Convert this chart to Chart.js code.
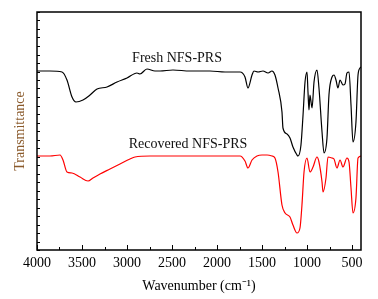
<!DOCTYPE html>
<html>
<head>
<meta charset="utf-8">
<script src="https://cdn.jsdelivr.net/npm/chart.js@4"></script>
<style>
  html, body { margin: 0; padding: 0; background: #fff; }
  canvas { display: block; }
</style>
</head>
<body>
<canvas id="chart" width="378" height="299"></canvas>
<script>
// wavenumber (cm-1) and transmittance (arbitrary units)
const freshWn = [4000, 3856, 3722, 3667, 3611, 3567, 3489, 3411, 3333, 3222, 3111, 3000, 2889, 2856, 2778, 2689, 2633, 2489, 2300, 2078, 1911, 1744, 1689, 1656, 1611, 1589, 1544, 1489, 1433, 1389, 1356, 1322, 1278, 1267, 1222, 1189, 1156, 1111, 1100, 1067, 1044, 1022, 1000, 989, 978, 967, 944, 922, 889, 867, 833, 811, 778, 756, 722, 700, 678, 656, 633, 600, 578, 556, 533, 511, 489, 456, 433, 411, 400]
const freshT = [179, 179, 178, 170, 153, 148, 150, 155, 161, 163, 168, 172, 177, 176, 181, 179, 179, 180, 179, 179, 178, 178, 173, 162, 175, 179, 178, 179, 177, 179, 175, 162, 138, 122, 116, 112, 103, 95, 94, 105, 135, 168, 178, 158, 140, 155, 142, 168, 180, 162, 118, 97, 112, 155, 173, 175, 170, 162, 170, 165, 166, 177, 178, 145, 108, 128, 175, 182, 183]

const recWn = [4000, 3856, 3744, 3711, 3667, 3611, 3522, 3433, 3378, 3300, 3189, 3078, 2967, 2911, 2744, 2522, 2189, 1967, 1744, 1689, 1656, 1611, 1556, 1500, 1444, 1389, 1356, 1322, 1278, 1244, 1189, 1156, 1111, 1078, 1056, 1033, 1000, 967, 933, 889, 867, 833, 822, 789, 767, 722, 700, 667, 633, 600, 556, 533, 511, 489, 456, 433, 400]
const recT = [94, 94, 95, 90, 78, 77, 73, 69, 72, 76, 81, 86, 91, 93, 94, 94, 94, 94, 94, 89, 82, 90, 94, 95, 95, 94, 92, 78, 45, 37, 33, 25, 17, 22, 45, 78, 92, 78, 83, 93, 88, 68, 58, 72, 93, 92, 91, 82, 90, 83, 92, 88, 62, 37, 52, 92, 94]

const xTicks = [4000, 3500, 3000, 2500, 2000, 1500, 1000, 500]
const seriesNames = ["Fresh NFS-PRS", "Recovered NFS-PRS"]
const labelWn = [2444, 2322]
const labelT = [192, 106]

const serif = "'Liberation Serif', 'Times New Roman', serif"

const toPoints = (xs, ys) => xs.map((x, i) => ({x: x, y: ys[i]}))

const framePlugin = {
    id: "frame",
    afterDatasetsDraw(chart){
        const ctx = chart.ctx
        const a = chart.chartArea
        const xs = chart.scales.x
        const ys = chart.scales.y
        ctx.save()
        ctx.strokeStyle = "#000"
        ctx.lineWidth = 1.5
        ctx.strokeRect(a.left, a.top, a.right - a.left, a.bottom - a.top)

        // inward ticks on the bottom axis
        ctx.lineWidth = 1
        ctx.beginPath()
        for(let v = 500; v <= 4000; v += 250){
            const px = Math.round(xs.getPixelForValue(v)) + 0.5
            const len = v % 500 === 0 ? 5 : 3
            ctx.moveTo(px, a.bottom)
            ctx.lineTo(px, a.bottom - len)
        }
        // small ticks on the left axis
        for(let v = 0; v <= 238; v += 8.5){
            const py = Math.round(ys.getPixelForValue(v)) + 0.5
            ctx.moveTo(a.left, py)
            ctx.lineTo(a.left + 3, py)
        }
        ctx.stroke()

        // curve labels
        ctx.fillStyle = "#111"
        ctx.font = "14px " + serif
        ctx.textAlign = "center"
        ctx.textBaseline = "middle"
        seriesNames.forEach((name, i) => {
            ctx.fillText(name, xs.getPixelForValue(labelWn[i]), ys.getPixelForValue(labelT[i]))
        })
        ctx.restore()
    }
}

new Chart(document.getElementById("chart").getContext("2d"), {
    type: "line",
    data: {
        datasets: [
            {
                label: seriesNames[0],
                data: toPoints(freshWn, freshT),
                borderColor: "#000000",
                borderWidth: 1.2,
                pointRadius: 0,
                cubicInterpolationMode: "monotone",
                fill: false
            },
            {
                label: seriesNames[1],
                data: toPoints(recWn, recT),
                borderColor: "#ff0000",
                borderWidth: 1.2,
                pointRadius: 0,
                cubicInterpolationMode: "monotone",
                fill: false
            }
        ]
    },
    options: {
        responsive: false,
        animation: false,
        layout: { padding: { top: 12, right: 17, left: 8, bottom: 0 } },
        plugins: { legend: { display: false }, tooltip: { enabled: false } },
        scales: {
            x: {
                type: "linear",
                reverse: true,
                min: 400,
                max: 4000,
                afterBuildTicks: s => { s.ticks = xTicks.map(v => ({value: v})) },
                afterFit: s => { s.height = 49 },
                grid: { display: false, drawTicks: false },
                border: { display: false },
                ticks: {
                    color: "#000",
                    padding: 5,
                    maxRotation: 0,
                    font: { family: serif, size: 14 },
                    callback: v => String(v)
                },
                title: {
                    display: true,
                    text: "Wavenumber (cm\u207B\u00B9)",
                    color: "#000",
                    font: { family: serif, size: 14 }
                }
            },
            y: {
                type: "linear",
                min: 0,
                max: 238,
                afterFit: s => { s.width = 29 },
                grid: { display: false, drawTicks: false },
                border: { display: false },
                ticks: { display: false },
                title: {
                    display: true,
                    text: "Transmittance",
                    color: "#8a5a2b",
                    font: { family: serif, size: 14 }
                }
            }
        }
    },
    plugins: [framePlugin]
})
</script>
</body>
</html>
